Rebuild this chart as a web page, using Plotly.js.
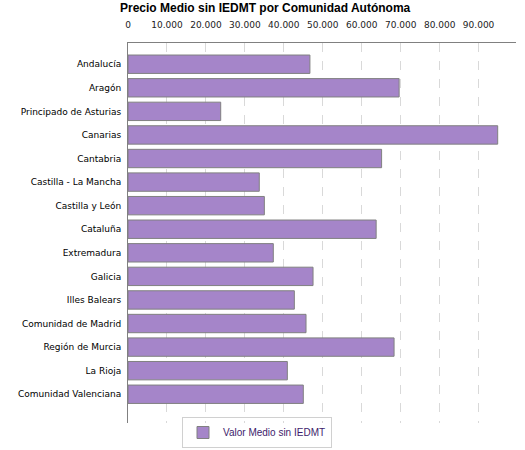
<!DOCTYPE html>
<html>
<head>
<meta charset="utf-8">
<script src="https://cdn.plot.ly/plotly-3.0.1.min.js"></script>
<style>html,body{margin:0;padding:0;background:#fff;}#chart{width:525px;height:450px;}</style>
</head>
<body>
<div id="chart"></div>
<script>
var categories = ["Andalucía","Aragón","Principado de Asturias","Canarias","Cantabria","Castilla - La Mancha","Castilla y León","Cataluña","Extremadura","Galicia","Illes Balears","Comunidad de Madrid","Región de Murcia","La Rioja","Comunidad Valenciana"];
var values = [46700, 69600, 23800, 94900, 65100, 33700, 35000, 63700, 37300, 47500, 42700, 45700, 68300, 40900, 45000];
var seriesName = "Valor Medio sin IEDMT";
var tickValues = [0,10000,20000,30000,40000,50000,60000,70000,80000,90000];
var tickLabels = ["0","10.000","20.000","30.000","40.000","50.000","60.000","70.000","80.000","90.000"];

var trace = {
  type: 'bar', orientation: 'h',
  y: categories, x: values, name: seriesName,
  width: 0.78,
  marker: {color: '#a585c9', line: {color: '#808080', width: 1}},
  showlegend: true,
  hoverinfo: 'x+y'
};
var layout = {
  width: 525, height: 450,
  margin: {l: 128, r: 9, t: 43, b: 27, pad: 0, autoexpand: false},
  paper_bgcolor: '#ffffff', plot_bgcolor: '#ffffff',
  font: {family: 'DejaVu Sans, sans-serif', size: 9, color: '#000'},
  title: {text: 'Precio Medio sin IEDMT por Comunidad Autónoma', x: 0.505, xref: 'container', xanchor: 'center', y: 0.982, yref: 'container', yanchor: 'middle', font: {family: 'Liberation Sans, Arial, sans-serif', size: 12, color: '#000', weight: 'bold'}},
  xaxis: {side: 'top', range: [0, 99600], tickvals: tickValues, ticktext: tickLabels, showgrid: true, gridcolor: '#d9d9d9', griddash: 'dash', gridwidth: 1, zeroline: false, showline: true, linecolor: '#808080', linewidth: 1, ticks: '', ticklabelstandoff: 10, tickfont: {size: 9, color: '#222'}, fixedrange: true},
  yaxis: {type: 'category', range: [15.22, -0.9], showgrid: false, zeroline: false, showline: true, linecolor: '#808080', linewidth: 1, ticks: '', ticklabelstandoff: 4, tickfont: {size: 9, color: '#000'}, fixedrange: true},
  showlegend: true,
  legend: {orientation: 'h', x: 182/525, xref: 'container', xanchor: 'left', y: 2/450, yref: 'container', yanchor: 'bottom', bordercolor: '#d0d0d0', borderwidth: 1, bgcolor: 'rgba(255,255,255,0)', font: {family: 'Liberation Sans, Arial, sans-serif', size: 10, color: '#3d1c6b'}, itemwidth: 30}
};
Plotly.newPlot('chart', [trace], layout, {displayModeBar: false, staticPlot: true});
</script>
</body>
</html>
